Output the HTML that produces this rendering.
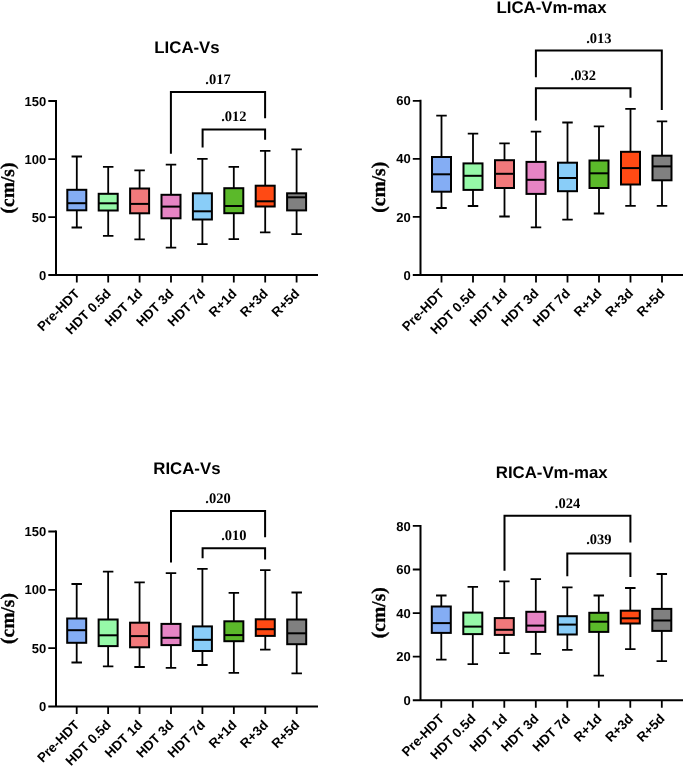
<!DOCTYPE html>
<html><head><meta charset="utf-8"><style>
html,body{margin:0;padding:0;background:#fff;}
svg{display:block;will-change:transform;}
text{text-rendering:geometricPrecision;}
.l{fill:none;stroke:#000;stroke-width:2.0;stroke-linecap:butt;stroke-linejoin:miter;}
.b{stroke:#000;stroke-width:2.0;}
.w{fill:none;stroke:#000;stroke-width:1.8;}
.t{font-family:"Liberation Sans",sans-serif;font-weight:bold;font-size:16.8px;text-anchor:middle;}
.k{font-family:"Liberation Sans",sans-serif;font-weight:bold;font-size:13px;text-anchor:end;}
.x{font-family:"Liberation Sans",sans-serif;font-weight:bold;font-size:13.3px;text-anchor:end;}
.p{font-family:"Liberation Serif",serif;font-weight:bold;font-size:14.5px;text-anchor:middle;}
.y{font-family:"Liberation Serif",serif;font-weight:bold;font-size:19.5px;text-anchor:middle;stroke:#000;stroke-width:0.3px;}
</style></head><body>
<svg width="685" height="767" viewBox="0 0 685 767">
<rect width="685" height="767" fill="#fff"/>
<g><text class="t" x="187" y="53.4">LICA-Vs</text>
<path class="l" d="M56 100V275.1M48.3 275.1H318"/>
<path class="w" d="M48.3 217.1H56M48.3 159.1H56M48.3 101H56"/>
<text class="k" x="46.2" y="279.7">0</text>
<text class="k" x="46.2" y="221.7">50</text>
<text class="k" x="46.2" y="163.7">100</text>
<text class="k" x="46.2" y="105.6">150</text>
<text class="x" transform="translate(80.4 294.4) rotate(-45)">Pre-HDT</text>
<text class="x" transform="translate(111.8 294.4) rotate(-45)">HDT 0.5d</text>
<text class="x" transform="translate(143.2 294.4) rotate(-45)">HDT 1d</text>
<text class="x" transform="translate(174.6 294.4) rotate(-45)">HDT 3d</text>
<text class="x" transform="translate(206 294.4) rotate(-45)">HDT 7d</text>
<text class="x" transform="translate(237.4 294.4) rotate(-45)">R+1d</text>
<text class="x" transform="translate(268.8 294.4) rotate(-45)">R+3d</text>
<text class="x" transform="translate(300.2 294.4) rotate(-45)">R+5d</text>
<path class="w" d="M76.8 275.1v7.5M108.2 275.1v7.5M139.6 275.1v7.5M171 275.1v7.5M202.4 275.1v7.5M233.8 275.1v7.5M265.2 275.1v7.5M296.6 275.1v7.5"/>
<text class="y" transform="translate(13.6 188) rotate(-90)">(cm/s)</text>
<path class="w" d="M76.8 156.5V189.8M76.8 210.3V227.5M71.55 156.5h10.5M71.55 227.5h10.5"/>
<rect class="b" x="67.3" y="189.8" width="19" height="20.5" fill="#84adf4"/>
<path class="l" d="M67.3 203.2h19"/>
<path class="w" d="M108.2 166.9V193.8M108.2 210.5V235.8M102.95 166.9h10.5M102.95 235.8h10.5"/>
<rect class="b" x="98.7" y="193.8" width="19" height="16.7" fill="#96f9a8"/>
<path class="l" d="M98.7 203.3h19"/>
<path class="w" d="M139.6 170.3V188.5M139.6 213.3V239.3M134.35 170.3h10.5M134.35 239.3h10.5"/>
<rect class="b" x="130.1" y="188.5" width="19" height="24.8" fill="#f2797b"/>
<path class="l" d="M130.1 203.9h19"/>
<path class="w" d="M171 164.7V194.8M171 218.3V247.7M165.75 164.7h10.5M165.75 247.7h10.5"/>
<rect class="b" x="161.5" y="194.8" width="19" height="23.5" fill="#e684c4"/>
<path class="l" d="M161.5 206.6h19"/>
<path class="w" d="M202.4 158.8V193.3M202.4 219.5V244.2M197.15 158.8h10.5M197.15 244.2h10.5"/>
<rect class="b" x="192.9" y="193.3" width="19" height="26.2" fill="#89cdf8"/>
<path class="l" d="M192.9 211.3h19"/>
<path class="w" d="M233.8 166.8V188.2M233.8 213.2V239.1M228.55 166.8h10.5M228.55 239.1h10.5"/>
<rect class="b" x="224.3" y="188.2" width="19" height="25" fill="#5bb92a"/>
<path class="l" d="M224.3 206h19"/>
<path class="w" d="M265.2 150.8V185.7M265.2 206.5V232.4M259.95 150.8h10.5M259.95 232.4h10.5"/>
<rect class="b" x="255.7" y="185.7" width="19" height="20.8" fill="#ff4a14"/>
<path class="l" d="M255.7 201.3h19"/>
<path class="w" d="M296.6 149.4V193.3M296.6 210.4V234.2M291.35 149.4h10.5M291.35 234.2h10.5"/>
<rect class="b" x="287.1" y="193.3" width="19" height="17.1" fill="#808080"/>
<path class="l" d="M287.1 197.3h19"/>
<path class="l" d="M170.9 153.7V91.9H265.1V118.3"/>
<text class="p" x="218" y="83.7">.017</text>
<path class="l" d="M202.6 147.6V129.6H265.1V139.7"/>
<text class="p" x="233.85" y="120.8">.012</text></g>
<g><text class="t" x="551.5" y="13.1">LICA-Vm-max</text>
<path class="l" d="M420.5 99.8V275M412.8 275H683"/>
<path class="w" d="M412.8 216.9H420.5M412.8 158.8H420.5M412.8 100.8H420.5"/>
<text class="k" x="410.7" y="279.6">0</text>
<text class="k" x="410.7" y="221.5">20</text>
<text class="k" x="410.7" y="163.4">40</text>
<text class="k" x="410.7" y="105.4">60</text>
<text class="x" transform="translate(445.1 294.3) rotate(-45)">Pre-HDT</text>
<text class="x" transform="translate(476.6 294.3) rotate(-45)">HDT 0.5d</text>
<text class="x" transform="translate(508.1 294.3) rotate(-45)">HDT 1d</text>
<text class="x" transform="translate(539.6 294.3) rotate(-45)">HDT 3d</text>
<text class="x" transform="translate(571.1 294.3) rotate(-45)">HDT 7d</text>
<text class="x" transform="translate(602.6 294.3) rotate(-45)">R+1d</text>
<text class="x" transform="translate(634.1 294.3) rotate(-45)">R+3d</text>
<text class="x" transform="translate(665.6 294.3) rotate(-45)">R+5d</text>
<path class="w" d="M441.5 275v7.5M473 275v7.5M504.5 275v7.5M536 275v7.5M567.5 275v7.5M599 275v7.5M630.5 275v7.5M662 275v7.5"/>
<text class="y" transform="translate(385 187.3) rotate(-90)">(cm/s)</text>
<path class="w" d="M441.5 115.7V157M441.5 191.7V208M436.25 115.7h10.5M436.25 208h10.5"/>
<rect class="b" x="432" y="157" width="19" height="34.7" fill="#84adf4"/>
<path class="l" d="M432 174.3h19"/>
<path class="w" d="M473 133.6V163.4M473 189.9V206M467.75 133.6h10.5M467.75 206h10.5"/>
<rect class="b" x="463.5" y="163.4" width="19" height="26.5" fill="#96f9a8"/>
<path class="l" d="M463.5 175.8h19"/>
<path class="w" d="M504.5 143.4V160.2M504.5 188V216.5M499.25 143.4h10.5M499.25 216.5h10.5"/>
<rect class="b" x="495" y="160.2" width="19" height="27.8" fill="#f2797b"/>
<path class="l" d="M495 173.8h19"/>
<path class="w" d="M536 131.7V161.9M536 193.9V227.4M530.75 131.7h10.5M530.75 227.4h10.5"/>
<rect class="b" x="526.5" y="161.9" width="19" height="32" fill="#e684c4"/>
<path class="l" d="M526.5 179.8h19"/>
<path class="w" d="M567.5 122.5V162.7M567.5 191.2V219.7M562.25 122.5h10.5M562.25 219.7h10.5"/>
<rect class="b" x="558" y="162.7" width="19" height="28.5" fill="#89cdf8"/>
<path class="l" d="M558 178h19"/>
<path class="w" d="M599 126.3V160.5M599 188V213.5M593.75 126.3h10.5M593.75 213.5h10.5"/>
<rect class="b" x="589.5" y="160.5" width="19" height="27.5" fill="#5bb92a"/>
<path class="l" d="M589.5 173.3h19"/>
<path class="w" d="M630.5 108.9V151.8M630.5 184.5V205.8M625.25 108.9h10.5M625.25 205.8h10.5"/>
<rect class="b" x="621" y="151.8" width="19" height="32.7" fill="#ff4a14"/>
<path class="l" d="M621 168.1h19"/>
<path class="w" d="M662 121.3V155.7M662 180.3V205.8M656.75 121.3h10.5M656.75 205.8h10.5"/>
<rect class="b" x="652.5" y="155.7" width="19" height="24.6" fill="#808080"/>
<path class="l" d="M652.5 166.4h19"/>
<path class="l" d="M535.9 77.2V50.6H661.8V110"/>
<text class="p" x="598.85" y="42.7">.013</text>
<path class="l" d="M535.9 120.5V88.2H630.5V97.8"/>
<text class="p" x="583.2" y="79.8">.032</text></g>
<g><text class="t" x="186.9" y="473.7">RICA-Vs</text>
<path class="l" d="M56 530.5V706.4M48.3 706.4H318"/>
<path class="w" d="M48.3 648.1H56M48.3 589.8H56M48.3 531.5H56"/>
<text class="k" x="46.2" y="711">0</text>
<text class="k" x="46.2" y="652.7">50</text>
<text class="k" x="46.2" y="594.4">100</text>
<text class="k" x="46.2" y="536.1">150</text>
<text class="x" transform="translate(80.3 725.7) rotate(-45)">Pre-HDT</text>
<text class="x" transform="translate(111.73 725.7) rotate(-45)">HDT 0.5d</text>
<text class="x" transform="translate(143.16 725.7) rotate(-45)">HDT 1d</text>
<text class="x" transform="translate(174.59 725.7) rotate(-45)">HDT 3d</text>
<text class="x" transform="translate(206.02 725.7) rotate(-45)">HDT 7d</text>
<text class="x" transform="translate(237.45 725.7) rotate(-45)">R+1d</text>
<text class="x" transform="translate(268.88 725.7) rotate(-45)">R+3d</text>
<text class="x" transform="translate(300.31 725.7) rotate(-45)">R+5d</text>
<path class="w" d="M76.7 706.4v7.5M108.13 706.4v7.5M139.56 706.4v7.5M170.99 706.4v7.5M202.42 706.4v7.5M233.85 706.4v7.5M265.28 706.4v7.5M296.71 706.4v7.5"/>
<text class="y" transform="translate(13.6 618.5) rotate(-90)">(cm/s)</text>
<path class="w" d="M76.7 584V618.5M76.7 642.8V662.5M71.45 584h10.5M71.45 662.5h10.5"/>
<rect class="b" x="67.2" y="618.5" width="19" height="24.3" fill="#84adf4"/>
<path class="l" d="M67.2 630.2h19"/>
<path class="w" d="M108.13 571.6V619.5M108.13 646.1V666.4M102.88 571.6h10.5M102.88 666.4h10.5"/>
<rect class="b" x="98.63" y="619.5" width="19" height="26.6" fill="#96f9a8"/>
<path class="l" d="M98.63 635.3h19"/>
<path class="w" d="M139.56 582.3V622.7M139.56 647.3V667M134.31 582.3h10.5M134.31 667h10.5"/>
<rect class="b" x="130.06" y="622.7" width="19" height="24.6" fill="#f2797b"/>
<path class="l" d="M130.06 636.1h19"/>
<path class="w" d="M170.99 573.2V623.9M170.99 645.1V667.8M165.74 573.2h10.5M165.74 667.8h10.5"/>
<rect class="b" x="161.49" y="623.9" width="19" height="21.2" fill="#e684c4"/>
<path class="l" d="M161.49 637.8h19"/>
<path class="w" d="M202.42 568.9V626.4M202.42 651V665M197.17 568.9h10.5M197.17 665h10.5"/>
<rect class="b" x="192.92" y="626.4" width="19" height="24.6" fill="#89cdf8"/>
<path class="l" d="M192.92 639.8h19"/>
<path class="w" d="M233.85 592.9V621.3M233.85 641.2V672.9M228.6 592.9h10.5M228.6 672.9h10.5"/>
<rect class="b" x="224.35" y="621.3" width="19" height="19.9" fill="#5bb92a"/>
<path class="l" d="M224.35 635.1h19"/>
<path class="w" d="M265.28 570.1V619.3M265.28 635.9V649.7M260.03 570.1h10.5M260.03 649.7h10.5"/>
<rect class="b" x="255.78" y="619.3" width="19" height="16.6" fill="#ff4a14"/>
<path class="l" d="M255.78 629.2h19"/>
<path class="w" d="M296.71 592.5V619.5M296.71 644.2V673.3M291.46 592.5h10.5M291.46 673.3h10.5"/>
<rect class="b" x="287.21" y="619.5" width="19" height="24.7" fill="#808080"/>
<path class="l" d="M287.21 633.3h19"/>
<path class="l" d="M171 562.4V511H265.1V537.3"/>
<text class="p" x="218.05" y="502.6">.020</text>
<path class="l" d="M202.6 558.3V548.3H265.1V559.6"/>
<text class="p" x="233.85" y="539.6">.010</text></g>
<g><text class="t" x="551.75" y="477.5">RICA-Vm-max</text>
<path class="l" d="M420.5 524.9V700.3M412.8 700.3H683"/>
<path class="w" d="M412.8 656.7H420.5M412.8 613.1H420.5M412.8 569.5H420.5M412.8 525.9H420.5"/>
<text class="k" x="410.7" y="704.9">0</text>
<text class="k" x="410.7" y="661.3">20</text>
<text class="k" x="410.7" y="617.7">40</text>
<text class="k" x="410.7" y="574.1">60</text>
<text class="k" x="410.7" y="530.5">80</text>
<text class="x" transform="translate(444.9 719.6) rotate(-45)">Pre-HDT</text>
<text class="x" transform="translate(476.4 719.6) rotate(-45)">HDT 0.5d</text>
<text class="x" transform="translate(507.9 719.6) rotate(-45)">HDT 1d</text>
<text class="x" transform="translate(539.4 719.6) rotate(-45)">HDT 3d</text>
<text class="x" transform="translate(570.9 719.6) rotate(-45)">HDT 7d</text>
<text class="x" transform="translate(602.4 719.6) rotate(-45)">R+1d</text>
<text class="x" transform="translate(633.9 719.6) rotate(-45)">R+3d</text>
<text class="x" transform="translate(665.4 719.6) rotate(-45)">R+5d</text>
<path class="w" d="M441.3 700.3v7.5M472.8 700.3v7.5M504.3 700.3v7.5M535.8 700.3v7.5M567.3 700.3v7.5M598.8 700.3v7.5M630.3 700.3v7.5M661.8 700.3v7.5"/>
<text class="y" transform="translate(385.2 612.7) rotate(-90)">(cm/s)</text>
<path class="w" d="M441.3 595.5V606.5M441.3 632.9V659.7M436.05 595.5h10.5M436.05 659.7h10.5"/>
<rect class="b" x="431.8" y="606.5" width="19" height="26.4" fill="#84adf4"/>
<path class="l" d="M431.8 623.1h19"/>
<path class="w" d="M472.8 586.8V612.6M472.8 634.1V664.1M467.55 586.8h10.5M467.55 664.1h10.5"/>
<rect class="b" x="463.3" y="612.6" width="19" height="21.5" fill="#96f9a8"/>
<path class="l" d="M463.3 626.6h19"/>
<path class="w" d="M504.3 581.3V618.1M504.3 634.9V653.2M499.05 581.3h10.5M499.05 653.2h10.5"/>
<rect class="b" x="494.8" y="618.1" width="19" height="16.8" fill="#f2797b"/>
<path class="l" d="M494.8 629.8h19"/>
<path class="w" d="M535.8 579.1V611.8M535.8 631.9V653.8M530.55 579.1h10.5M530.55 653.8h10.5"/>
<rect class="b" x="526.3" y="611.8" width="19" height="20.1" fill="#e684c4"/>
<path class="l" d="M526.3 625.6h19"/>
<path class="w" d="M567.3 587.4V616.2M567.3 634.5V649.9M562.05 587.4h10.5M562.05 649.9h10.5"/>
<rect class="b" x="557.8" y="616.2" width="19" height="18.3" fill="#89cdf8"/>
<path class="l" d="M557.8 624.6h19"/>
<path class="w" d="M598.8 595.5V612.8M598.8 631.9V675.7M593.55 595.5h10.5M593.55 675.7h10.5"/>
<rect class="b" x="589.3" y="612.8" width="19" height="19.1" fill="#5bb92a"/>
<path class="l" d="M589.3 621.7h19"/>
<path class="w" d="M630.3 588V610.7M630.3 623.5V649.1M625.05 588h10.5M625.05 649.1h10.5"/>
<rect class="b" x="620.8" y="610.7" width="19" height="12.8" fill="#ff4a14"/>
<path class="l" d="M620.8 618.3h19"/>
<path class="w" d="M661.8 574V608.9M661.8 630.9V661.1M656.55 574h10.5M656.55 661.1h10.5"/>
<rect class="b" x="652.3" y="608.9" width="19" height="22" fill="#808080"/>
<path class="l" d="M652.3 620.5h19"/>
<path class="l" d="M504.5 570.7V515.7H630.4V542.6"/>
<text class="p" x="567.45" y="507.6">.024</text>
<path class="l" d="M567.3 576.3V553.6H630.4V577"/>
<text class="p" x="598.85" y="544.3">.039</text></g>
</svg>
</body></html>
